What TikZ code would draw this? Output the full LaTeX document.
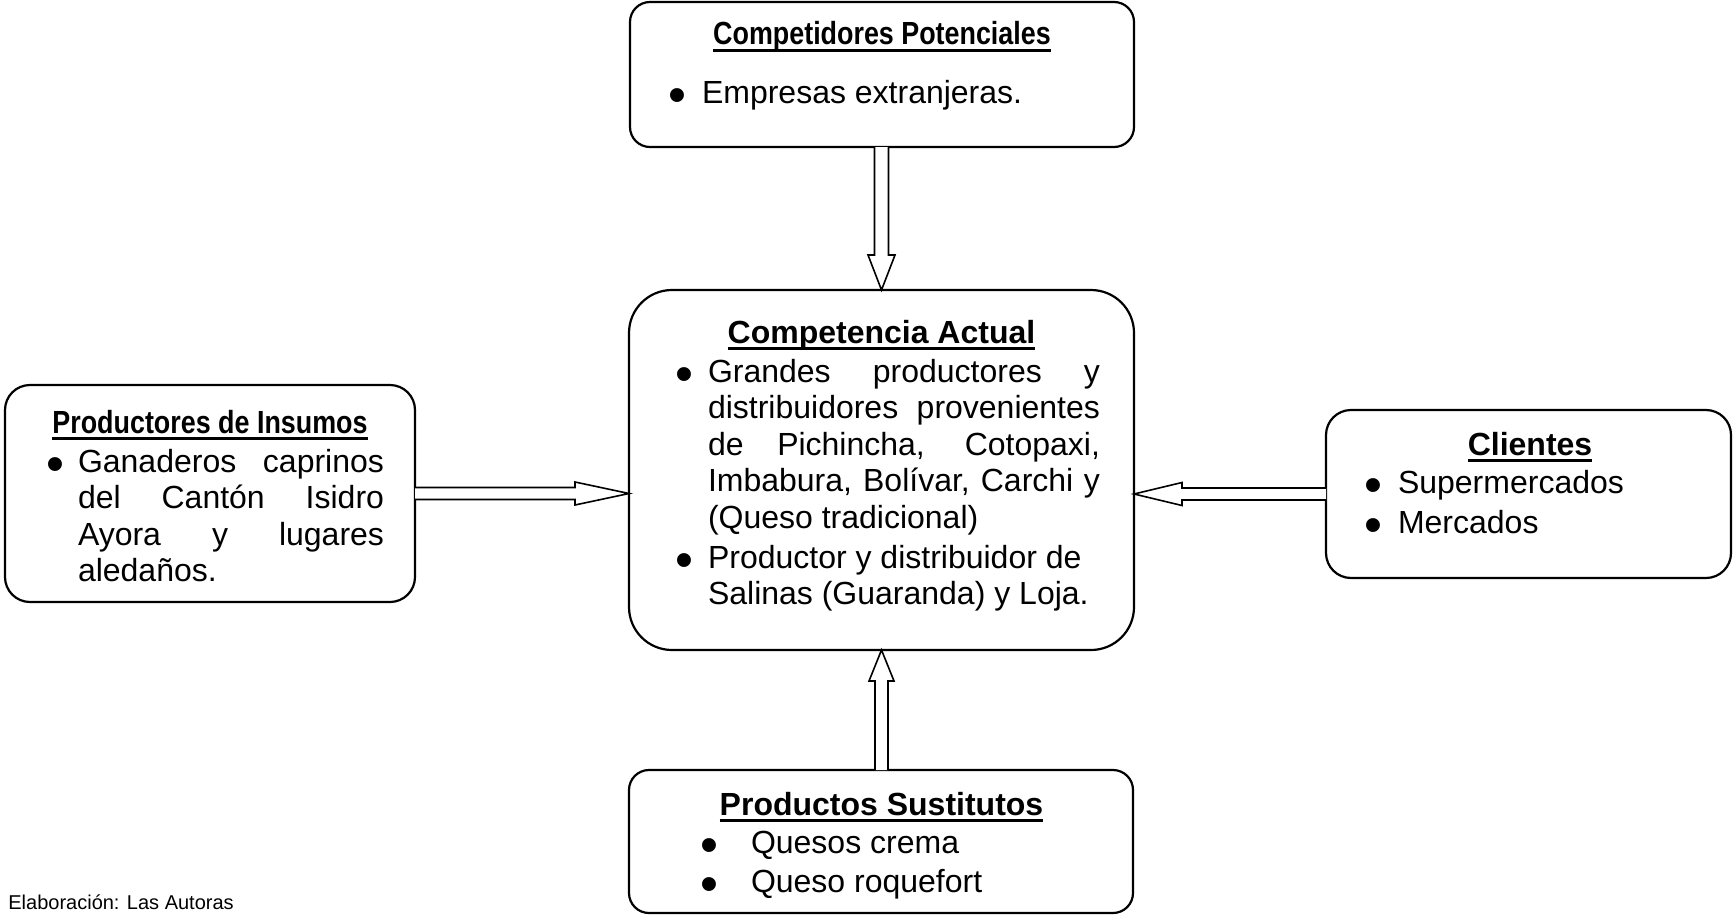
\documentclass[tikz,border=0pt]{standalone}
\usepackage{fontspec}
\setmainfont{Liberation Sans}
\usepackage{graphicx}
\usetikzlibrary{calc}
\newsavebox\ttlbox
\newcommand{\ttl}[1]{\sbox\ttlbox{\textbf{#1}}\rlap{\rule[-3.5pt]{\wd\ttlbox}{1.5pt}}\usebox\ttlbox}
\newcommand{\jl}[1]{\makebox[\linewidth][s]{#1}\par}
\newcommand{\bulsym}{\raisebox{-4.5pt}{\scalebox{1.6}{\textbullet}}}
\tikzset{
  box/.style={draw, line width=1.1pt, rounded corners=#1, inner sep=0pt, outer sep=0pt},
  box/.default=10pt,
  txt/.style={inner sep=0pt, outer sep=0pt, font=\fontsize{16pt}{18.33pt}\selectfont},
  ttlnode/.style={txt, anchor=base},
  lft/.style={txt, anchor=base west},
  fat/.style={draw, line width=0.8pt, fill=white, line join=miter},
}
\begin{document}
\begin{tikzpicture}[x=0.5pt, y=-0.5pt]
\useasboundingbox (0,0) rectangle (1733,915);
% boxes
\node[box=10pt, minimum width=252pt, minimum height=72.5pt] (top) at (882,74.5) {};
\node[box=21.5pt, minimum width=252.5pt, minimum height=180pt] (cen) at (881.5,470) {};
\node[box=12.5pt, minimum width=205pt, minimum height=108.5pt] (left) at (210,493.5) {};
\node[box=12.5pt, minimum width=202.5pt, minimum height=84pt] (right) at (1528.5,494) {};
\node[box=10pt, minimum width=252pt, minimum height=71.5pt] (bot) at (881,841.5) {};
% top box text
\node[ttlnode] (topT) at (882,45) {\ttl{\scalebox{0.84}[1]{Competidores Potenciales}}};
\node[lft] (topB) at (668,104) {\bulsym};
\node[lft] (top1) at (702,104) {Empresas extranjeras.};
% center box text
\node[ttlnode] (cenT) at (881.5,343) {\ttl{Competencia Actual}};
\node[lft] (cenB1) at (675,382) {\bulsym};
\node[lft] (cen1) at (708,382) {\parbox[t]{196pt}{\fontsize{16pt}{18.33pt}\selectfont
  \jl{Grandes productores y}\jl{distribuidores provenientes}\jl{de Pichincha, Cotopaxi,}\jl{Imbabura, Bolívar, Carchi y}(Queso tradicional)}};
\node[lft] (cenB2) at (675,568) {\bulsym};
\node[lft] (cen2) at (708,568) {\parbox[t]{196pt}{\fontsize{16pt}{18.33pt}\selectfont
  Productor y distribuidor de\par Salinas (Guaranda) y Loja.}};
% left box text
\node[ttlnode] (leftT) at (210,433) {\ttl{\scalebox{0.84}[1]{Productores de Insumos}}};
\node[lft] (leftB) at (46,472) {\bulsym};
\node[lft] (left1) at (78,472) {\parbox[t]{153pt}{\fontsize{16pt}{18.33pt}\selectfont
  \jl{Ganaderos caprinos}\jl{del Cantón Isidro}\jl{Ayora y lugares}aledaños.}};
% right box text
\node[ttlnode] (rightT) at (1530,455) {\ttl{Clientes}};
\node[lft] (rightB1) at (1364,493) {\bulsym};
\node[lft] (right1) at (1398,493) {Supermercados};
\node[lft] (rightB2) at (1364,533) {\bulsym};
\node[lft] (right2) at (1398,533) {Mercados};
% bottom box text
\node[ttlnode] (botT) at (881.5,815) {\ttl{Productos Sustitutos}};
\node[lft] (botB1) at (700,853) {\bulsym};
\node[lft] (bot1) at (751,853) {Quesos crema};
\node[lft] (botB2) at (700,892) {\bulsym};
\node[lft] (bot2) at (751,892) {Queso roquefort};
% footer
\node[inner sep=0pt, anchor=base west, font=\fontsize{10pt}{12pt}\selectfont] (footer) at (8,909) {Elaboración: Las Autoras};
% arrows
\coordinate (ta) at (cen.north |- top.south);
\draw[fat] ([xshift=-3.5pt]ta) -- ([xshift=-3.5pt,yshift=17.5pt]cen.north) -- ([xshift=-6.75pt,yshift=17.5pt]cen.north) -- (cen.north) -- ([xshift=6.75pt,yshift=17.5pt]cen.north) -- ([xshift=3.5pt,yshift=17.5pt]cen.north) -- ([xshift=3.5pt]ta);
\coordinate (la) at (cen.west |- left.east);
\draw[fat] ([yshift=3pt]left.east) -- ([xshift=-27pt,yshift=3pt]la) -- ([xshift=-27pt,yshift=5.75pt]la) -- (la) -- ([xshift=-27pt,yshift=-5.75pt]la) -- ([xshift=-27pt,yshift=-3pt]la) -- ([yshift=-3pt]left.east);
\coordinate (ra) at (cen.east |- right.west);
\draw[fat] ([yshift=3pt]right.west) -- ([xshift=24pt,yshift=3pt]ra) -- ([xshift=24pt,yshift=5.75pt]ra) -- (ra) -- ([xshift=24pt,yshift=-5.75pt]ra) -- ([xshift=24pt,yshift=-3pt]ra) -- ([yshift=-3pt]right.west);
\coordinate (ba) at (cen.south |- bot.north);
\draw[fat] ([xshift=-3.25pt]ba) -- ([xshift=-3.25pt,yshift=-15.5pt]cen.south) -- ([xshift=-6.25pt,yshift=-15.5pt]cen.south) -- (cen.south) -- ([xshift=6.25pt,yshift=-15.5pt]cen.south) -- ([xshift=3.25pt,yshift=-15.5pt]cen.south) -- ([xshift=3.25pt]ba);
\end{tikzpicture}
\end{document}
